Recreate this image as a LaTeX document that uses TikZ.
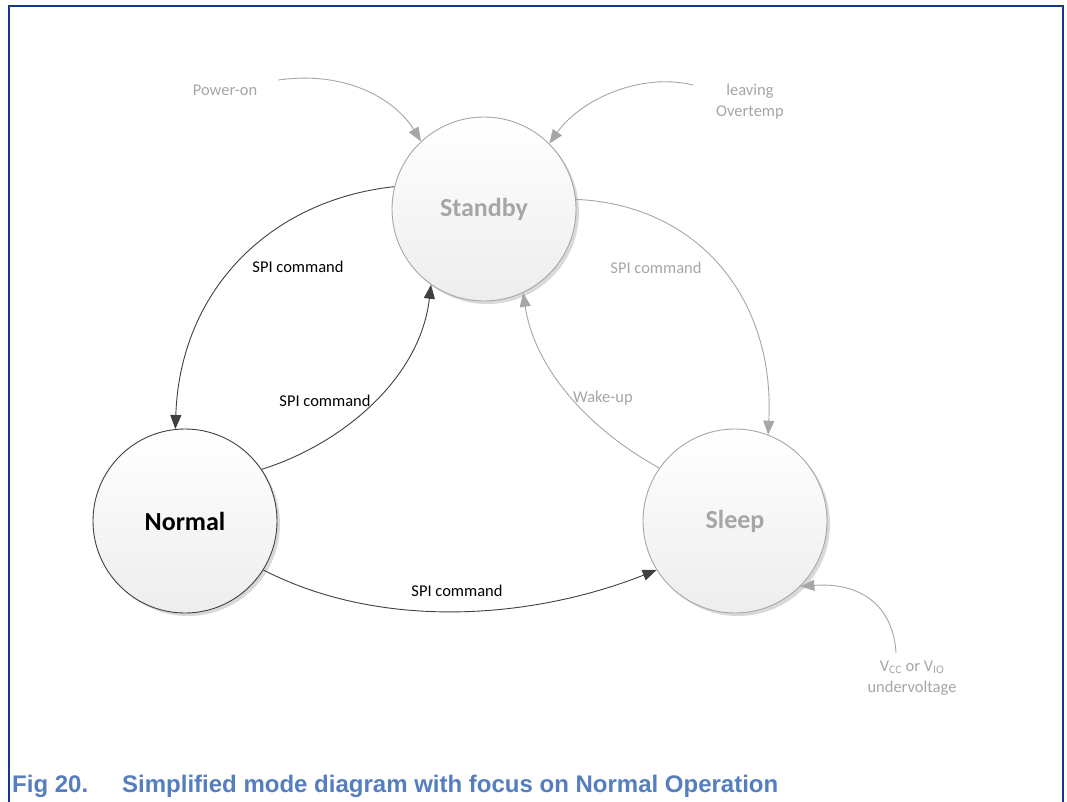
\documentclass[tikz,border=0pt]{standalone}
\usepackage{fontspec}
\setmainfont{Carlito}
\newfontfamily\capfont{Liberation Sans}
\usetikzlibrary{arrows.meta,shadows}
\definecolor{lgray}{RGB}{166,166,166}
\definecolor{dgray}{RGB}{64,64,64}
\definecolor{framecol}{RGB}{20,55,140}
\definecolor{capblue}{RGB}{84,126,190}
\tikzset{
  state/.style={circle, minimum size=184pt, inner sep=0pt,
    top color=white, bottom color=black!7,
    font=\fontsize{26}{30}\selectfont\bfseries,
    drop shadow={shadow xshift=3pt, shadow yshift=-3pt, opacity=0.15, fill=black}},
  grstate/.style={state, draw=lgray, text=lgray, line width=0.9pt},
  bkstate/.style={state, draw=dgray, text=black, line width=0.9pt},
  lbl/.style={font=\fontsize{16.5}{21}\selectfont, inner sep=1pt, align=center},
  grlbl/.style={lbl, text=lgray},
  bklbl/.style={lbl, text=black},
  grarrow/.style={draw=lgray, line width=0.9pt, -{Triangle[length=14pt,width=11pt]}},
  bkarrow/.style={draw=dgray, line width=0.9pt, -{Triangle[length=14pt,width=11pt]}},
}
\begin{document}
\begin{tikzpicture}[x=1pt,y=-1pt]
\useasboundingbox (0,0) rectangle (1067,801);
\fill[white] (0,0) rectangle (1067,801);
\draw[framecol, line width=2pt] (9,805) -- (9,6) -- (1063,6) -- (1063,805);

% states
\node[grstate] (standby) at (484,209) {Standby};
\node[bkstate] (normal) at (185,521) {Normal};
\node[grstate] (sleep) at (735,521) {Sleep};

% external labels
\node[grlbl] (poweron) at (225,90) {Power-on};
\node[grlbl] (overtemp) at (750,102) {leaving\\Overtemp};
\node[grlbl] (vcc) at (912,678) {V\textsubscript{CC} or V\textsubscript{IO}\\undervoltage};

% transitions
\draw[grarrow] ([shift={(20,-10)}]poweron.east) .. controls (350,70) and (397,102) .. (standby.133);
\draw[grarrow] ([shift={(-22,-17)}]overtemp.west) .. controls (640,72) and (580,100) .. (standby.45);
\draw[grarrow] ([shift={(-16,-7)}]vcc.north) .. controls (893,605) and (860,582) .. (sleep.-45);

\draw[bkarrow] (standby.166) .. controls (270,200) and (180,290) .. (normal.96);
\node[bklbl] (l1) at (298,267) {SPI command};
\draw[bkarrow] (normal.34) .. controls (340,445) and (420,380) .. (standby.235);
\node[bklbl] (l2) at (325,401) {SPI command};
\draw[grarrow] (standby.6) .. controls (700,205) and (775,300) .. (sleep.69);
\node[grlbl] (l3) at (656,268) {SPI command};
\draw[grarrow] (sleep.145) .. controls (590,430) and (535,370) .. (standby.295);
\node[grlbl] (l4) at (603,398) {Wake-up};
\draw[bkarrow] (normal.328) .. controls (380,630) and (530,620) .. (sleep.212);
\node[bklbl] (l5) at (457,591) {SPI command};

% caption
\node[anchor=base west, inner sep=0pt, text=capblue,
  font=\capfont\bfseries\fontsize{24}{28}\selectfont] (cap) at (12,792)
  {\makebox[110pt][l]{Fig 20.}Simplified mode diagram with focus on Normal Operation};
\end{tikzpicture}
\end{document}
